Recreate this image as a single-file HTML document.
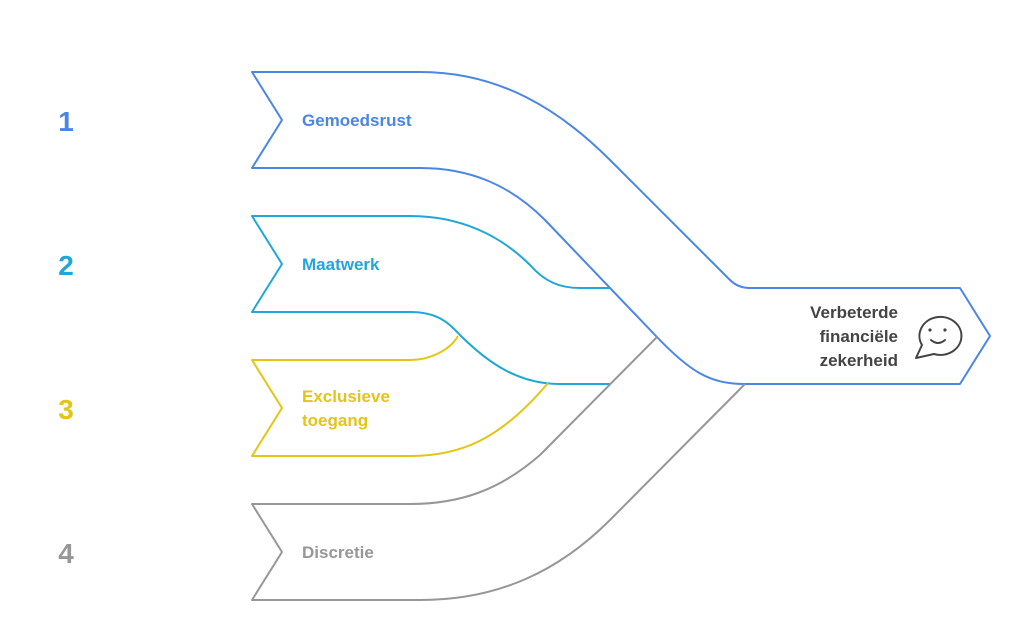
<!DOCTYPE html>
<html><head><meta charset="utf-8"><style>
body{margin:0;background:#fff;}
svg{display:block;font-family:"Liberation Sans",sans-serif;}
</style></head><body>
<svg width="1020" height="637" viewBox="0 0 1020 637">
<g fill="none" stroke-width="2" stroke-linejoin="round">
<path stroke="#4a86e4" d="M252,72 H420 C500,72 560,110 610,160 L730,280 Q738,288 750,288 H960 L990,336 L960,384 H745 C710,384 690,372 655,335 L545,220 C510,185 470,168 420,168 H252 L282,120 Z"/>
<path stroke="#1ea7d8" d="M610,288 H580 C560,288 545,282 530,265 C500,235 460,216 410,216 H252 L282,264 L252,312 H410 C440,312 450,325 460,335 C490,365 520,384 560,384 H610"/>
<path stroke="#e3c513" d="M458,336 C450,350 430,360 410,360 H252 L282,408 L252,456 H410 C460,456 500,440 548,383"/>
<path stroke="#979797" d="M657,337 L540,455 C500,490 460,504 410,504 H252 L282,552 L252,600 H420 C500,600 560,570 610,520 L745,384"/>
</g>
<g font-weight="bold">
<text x="66" y="131" font-size="28" fill="#4a86e4" text-anchor="middle">1</text>
<text x="66" y="275" font-size="28" fill="#1ea7d8" text-anchor="middle">2</text>
<text x="66" y="419" font-size="28" fill="#e3c513" text-anchor="middle">3</text>
<text x="66" y="563" font-size="28" fill="#979797" text-anchor="middle">4</text>
<text x="302" y="126" font-size="17" fill="#4a86e4">Gemoedsrust</text>
<text x="302" y="270" font-size="17" fill="#1ea7d8">Maatwerk</text>
<text x="302" y="402" font-size="17" fill="#e3c513">Exclusieve</text>
<text x="302" y="426" font-size="17" fill="#e3c513">toegang</text>
<text x="302" y="558" font-size="17" fill="#979797">Discretie</text>
<text x="898" y="318" font-size="17" fill="#444" text-anchor="end">Verbeterde</text>
<text x="898" y="342" font-size="17" fill="#444" text-anchor="end">financiële</text>
<text x="898" y="366" font-size="17" fill="#444" text-anchor="end">zekerheid</text>
</g>
<g fill="none" stroke="#444" stroke-width="2" stroke-linecap="round" stroke-linejoin="round">
<path d="M922,345 A21,19 0 1 1 934,354 L916,358 Z"/>
<path d="M931,340 Q938,346 945,340"/>
</g>
<circle cx="930" cy="330" r="1.6" fill="#444"/><circle cx="945" cy="330" r="1.6" fill="#444"/>
</svg>
</body></html>
